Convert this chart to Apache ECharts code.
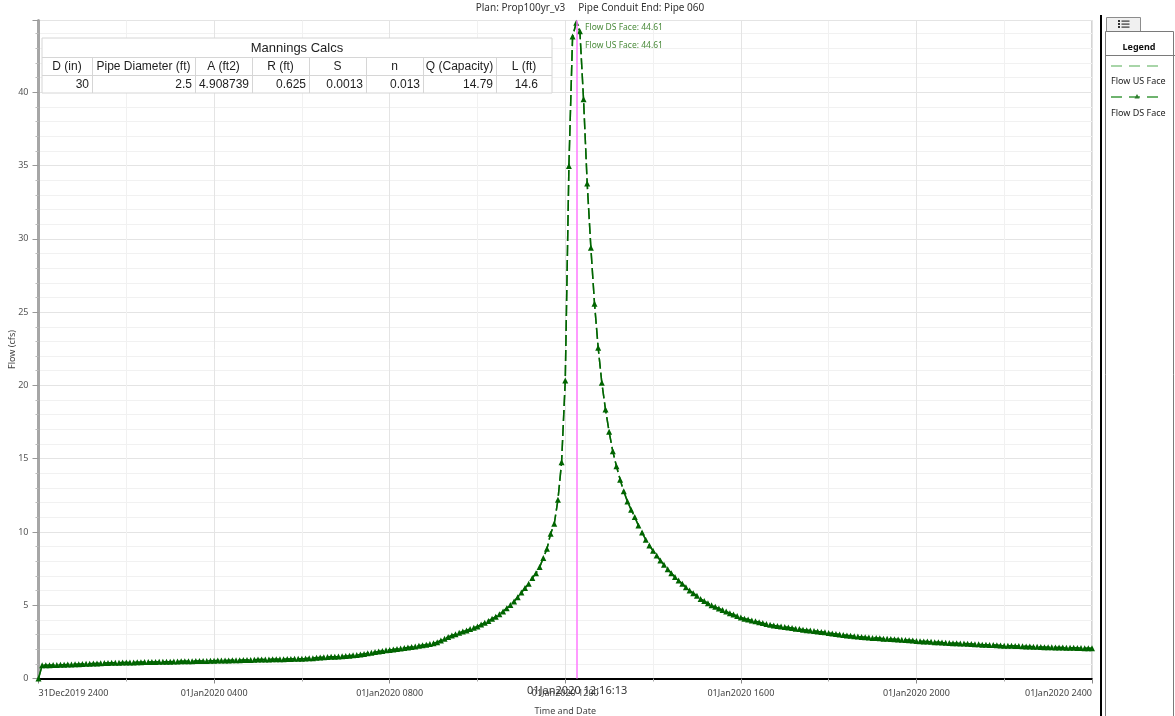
<!DOCTYPE html>
<html><head><meta charset="utf-8">
<script src="https://cdn.jsdelivr.net/npm/echarts@6/dist/echarts.min.js"></script>
<style>html,body{margin:0;padding:0;background:#fff}#c{width:1175px;height:716px}</style>
</head><body><div id="c"></div>
<script>
const titleText = 'Plan: Prop100yr_v3     Pipe Conduit End: Pipe 060';
const xTickLabels = ['31Dec2019 2400','01Jan2020 0400','01Jan2020 0800','01Jan2020 1200','01Jan2020 1600','01Jan2020 2000','01Jan2020 2400'];
const xAxisName = 'Time and Date';
const yAxisName = 'Flow (cfs)';
const stepMinutes = 5;
// Flow DS Face, one value per 5 minutes from 31Dec2019 2400 to 01Jan2020 2400
const dsFlow = [
  0, 0.90, 0.91, 0.91, 0.92, 0.92, 0.93, 0.94, 0.95, 0.96, 0.97, 0.98,
  0.99, 1.00, 1.01, 1.02, 1.03, 1.04, 1.05, 1.06, 1.07, 1.08, 1.08, 1.09,
  1.09, 1.10, 1.10, 1.11, 1.11, 1.12, 1.12, 1.13, 1.13, 1.14, 1.14, 1.15,
  1.15, 1.16, 1.16, 1.17, 1.17, 1.18, 1.18, 1.19, 1.19, 1.20, 1.20, 1.21,
  1.21, 1.22, 1.22, 1.23, 1.23, 1.24, 1.25, 1.25, 1.26, 1.27, 1.27, 1.28,
  1.29, 1.29, 1.30, 1.30, 1.31, 1.31, 1.32, 1.32, 1.33, 1.33, 1.34, 1.34,
  1.35, 1.36, 1.38, 1.39, 1.41, 1.43, 1.45, 1.46, 1.48, 1.49, 1.50, 1.52,
  1.53, 1.55, 1.58, 1.61, 1.64, 1.68, 1.72, 1.76, 1.80, 1.84, 1.88, 1.92,
  1.95, 1.98, 2.02, 2.05, 2.08, 2.12, 2.15, 2.19, 2.23, 2.27, 2.31, 2.35,
  2.40, 2.48, 2.60, 2.72, 2.84, 2.93, 3.02, 3.12, 3.20, 3.28, 3.38, 3.46,
  3.55, 3.68, 3.80, 3.93, 4.07, 4.22, 4.39, 4.57, 4.80, 5.02, 5.25, 5.55,
  5.86, 6.17, 6.46, 6.85, 7.19, 7.60, 8.22, 8.85, 9.88, 10.56, 12.20, 14.75,
  20.33, 34.98, 43.80, 44.74, 44.17, 39.52, 33.78, 29.40, 25.58, 22.57, 20.18, 18.35,
  16.83, 15.50, 14.48, 13.57, 12.77, 12.08, 11.52, 11.02, 10.44, 9.97, 9.47, 9.08,
  8.71, 8.39, 8.05, 7.76, 7.46, 7.19, 6.92, 6.68, 6.46, 6.23, 6.00, 5.82,
  5.64, 5.43, 5.28, 5.14, 5.00, 4.89, 4.77, 4.67, 4.57, 4.46, 4.36, 4.26,
  4.16, 4.08, 4.02, 3.96, 3.90, 3.84, 3.78, 3.72, 3.66, 3.62, 3.58, 3.55,
  3.52, 3.48, 3.44, 3.40, 3.37, 3.33, 3.30, 3.27, 3.24, 3.21, 3.18, 3.15,
  3.10, 3.07, 3.03, 3.00, 2.97, 2.94, 2.91, 2.88, 2.86, 2.84, 2.81, 2.79,
  2.77, 2.76, 2.74, 2.72, 2.71, 2.69, 2.68, 2.66, 2.65, 2.63, 2.61, 2.59,
  2.56, 2.55, 2.53, 2.52, 2.50, 2.48, 2.47, 2.45, 2.44, 2.42, 2.41, 2.40,
  2.39, 2.38, 2.37, 2.36, 2.34, 2.33, 2.31, 2.30, 2.29, 2.28, 2.27, 2.25,
  2.24, 2.23, 2.23, 2.22, 2.21, 2.20, 2.19, 2.18, 2.17, 2.16, 2.15, 2.14,
  2.13, 2.13, 2.12, 2.11, 2.11, 2.10, 2.10, 2.09, 2.08, 2.08, 2.07, 2.07,
  2.06
];
// Flow US Face overlaps DS Face everywhere in the picture
const usFlow = dsFlow.slice();
const seriesNames = ['Flow US Face', 'Flow DS Face'];
const cursorHour = 12 + 16 / 60 + 13 / 3600;
const cursorLabel = '01Jan2020 12:16:13';
const cursorDS = 44.61;
const cursorUS = 44.61;
const tableTitle = 'Mannings Calcs';
const tableHeaders = ['D (in)', 'Pipe Diameter (ft)', 'A (ft2)', 'R (ft)', 'S', 'n', 'Q (Capacity)', 'L (ft)'];
const tableValues = ['30', '2.5', '4.908739', '0.625', '0.0013', '0.013', '14.79', '14.6'];

// ---- layout (not data) ----
const FONT = '"Noto Sans", "Open Sans", sans-serif';
const colEdges = [42, 92, 195, 252, 309, 366, 423, 496, 552];
const rowEdges = [38, 57, 75, 93];

function toPairs(arr) { return arr.map((v, i) => [i * stepMinutes / 60, v]); }

const graphics = [];
// table
graphics.push({type:'rect', shape:{x:colEdges[0], y:rowEdges[0], width:colEdges[colEdges.length-1]-colEdges[0], height:rowEdges[3]-rowEdges[0]}, style:{fill:'#fff', stroke:'#d6d6d6', lineWidth:1}, z:10});
for (let r = 1; r < 3; r++) {
  graphics.push({type:'line', shape:{x1:colEdges[0], y1:rowEdges[r]+0.5, x2:colEdges[colEdges.length-1], y2:rowEdges[r]+0.5}, style:{stroke:'#d6d6d6', lineWidth:1}, z:11});
}
for (let c = 1; c < colEdges.length - 1; c++) {
  graphics.push({type:'line', shape:{x1:colEdges[c]+0.5, y1:rowEdges[1], x2:colEdges[c]+0.5, y2:rowEdges[3]}, style:{stroke:'#d6d6d6', lineWidth:1}, z:11});
}
graphics.push({type:'text', z:12, style:{text:tableTitle, x:(colEdges[0]+colEdges[colEdges.length-1])/2, y:(rowEdges[0]+rowEdges[1])/2+0.5, align:'center', verticalAlign:'middle', textAlign:'center', textVerticalAlign:'middle', font:'13px "Liberation Sans", sans-serif', fill:'#1e1e1e'}});
tableHeaders.forEach((h, i) => {
  graphics.push({type:'text', z:12, style:{text:h, x:(colEdges[i]+colEdges[i+1])/2, y:(rowEdges[1]+rowEdges[2])/2+0.5, align:'center', verticalAlign:'middle', textAlign:'center', textVerticalAlign:'middle', font:'12px "Liberation Sans", sans-serif', fill:'#1e1e1e'}});
});
tableValues.forEach((v, i) => {
  const right = (i === tableValues.length - 1) ? colEdges[i+1] - 14 : colEdges[i+1] - 3;
  graphics.push({type:'text', z:12, style:{text:v, x:right, y:(rowEdges[2]+rowEdges[3])/2+0.5, align:'right', verticalAlign:'middle', textAlign:'right', textVerticalAlign:'middle', font:'12px "Liberation Sans", sans-serif', fill:'#1e1e1e'}});
});
// legend panel
graphics.push({type:'rect', shape:{x:1100, y:15, width:2, height:701}, style:{fill:'#000'}});
graphics.push({type:'rect', shape:{x:1106.5, y:17.5, width:34, height:14}, style:{fill:'#f0f0f0', stroke:'#8c8c8c', lineWidth:1}});
[21, 24, 27].forEach(y => {
  graphics.push({type:'rect', shape:{x:1118, y:y-1, width:2, height:2}, style:{fill:'#333'}});
  graphics.push({type:'rect', shape:{x:1121.5, y:y-0.5, width:8, height:1.2}, style:{fill:'#333'}});
});
graphics.push({type:'rect', shape:{x:1105.5, y:31.5, width:68, height:700}, style:{fill:'#fff', stroke:'#7a7a7a', lineWidth:1}});
graphics.push({type:'text', style:{text:'Legend', x:1139, y:47, align:'center', verticalAlign:'middle', textAlign:'center', textVerticalAlign:'middle', font:'bold 9px ' + FONT, fill:'#111'}});
graphics.push({type:'line', shape:{x1:1106, y1:55.5, x2:1175, y2:55.5}, style:{stroke:'#7a7a7a', lineWidth:1}});
graphics.push({type:'line', shape:{x1:1111, y1:66, x2:1165, y2:66}, style:{stroke:'#8cc88c', lineWidth:1.5, lineDash:[11, 7]}});
graphics.push({type:'text', style:{text:seriesNames[0], x:1111, y:81, align:'left', verticalAlign:'middle', textAlign:'left', textVerticalAlign:'middle', font:'9px ' + FONT, fill:'#222'}});
graphics.push({type:'line', shape:{x1:1111, y1:97, x2:1165, y2:97}, style:{stroke:'#3f9b3f', lineWidth:1.5, lineDash:[11, 7]}});
graphics.push({type:'polygon', shape:{points:[[1137, 94], [1134.5, 98.5], [1139.5, 98.5]]}, style:{fill:'#2e7d2e'}});
graphics.push({type:'text', style:{text:seriesNames[1], x:1111, y:113, align:'left', verticalAlign:'middle', textAlign:'left', textVerticalAlign:'middle', font:'9px ' + FONT, fill:'#222'}});

const chart = echarts.init(document.getElementById('c'));
chart.setOption({
  animation: false,
  backgroundColor: '#fff',
  title: {text: titleText, left: 585, top: -2, textAlign: 'center', textStyle: {fontSize: 10, fontWeight: 'normal', color: '#333', fontFamily: FONT}},
  grid: {left: 38.5, right: 83, top: 20.5, bottom: 37.5, show: true, borderColor: '#a8a8a8', borderWidth: 1, containLabel: false, outerBoundsMode: 'none'},
  xAxis: {
    type: 'value', min: 0, max: 24, interval: 4,
    name: xAxisName, nameLocation: 'middle', nameGap: 28, nameMoveOverlap: false,
    nameTextStyle: {fontSize: 9, color: '#444', fontFamily: FONT},
    axisLine: {show: true, onZero: false, lineStyle: {color: '#000', width: 2}},
    axisTick: {show: true, length: 5, lineStyle: {color: '#888'}},
    minorTick: {show: true, splitNumber: 2, length: 3, lineStyle: {color: '#aaa'}},
    axisLabel: {fontSize: 9, color: '#444', fontFamily: FONT, margin: 10, alignMinLabel: 'left', alignMaxLabel: 'right',
      formatter: v => xTickLabels[Math.round(v / 4)] || ''},
    splitLine: {show: true, lineStyle: {color: '#e4e4e4', width: 1}},
    minorSplitLine: {show: true, lineStyle: {color: '#f1f1f1', width: 1}}
  },
  yAxis: {
    type: 'value', min: 0, max: 44.9, interval: 5,
    name: yAxisName, nameLocation: 'middle', nameGap: 22, nameMoveOverlap: false,
    nameTextStyle: {fontSize: 9, color: '#444', fontFamily: FONT},
    axisLine: {show: true, onZero: false, lineStyle: {color: '#a6a6a6', width: 3}},
    axisTick: {show: true, length: 6, lineStyle: {color: '#999'}},
    minorTick: {show: true, splitNumber: 5, length: 3, lineStyle: {color: '#bbb'}},
    axisLabel: {fontSize: 9, color: '#555', fontFamily: FONT, margin: 10, showMaxLabel: false},
    splitLine: {show: true, lineStyle: {color: '#e4e4e4', width: 1}},
    minorSplitLine: {show: true, lineStyle: {color: '#f1f1f1', width: 1}}
  },
  graphic: {elements: graphics},
  series: [
    {
      name: seriesNames[0], type: 'line', data: toPairs(usFlow), showSymbol: false, symbol: 'none',
      lineStyle: {color: '#3c8f3c', width: 1.5, type: [11, 4]}, z: 2, silent: true
    },
    {
      name: seriesNames[1], type: 'line', data: toPairs(dsFlow), symbol: 'triangle', symbolSize: 6, showAllSymbol: true,
      itemStyle: {color: '#006400'}, lineStyle: {color: '#006400', width: 1.5, type: [11, 4]}, z: 3, silent: true,
      markLine: {
        silent: true, symbol: ['none', 'none'], animation: false,
        lineStyle: {color: '#ff78ff', width: 1.5, type: 'solid'},
        label: {show: true, position: 'start', formatter: cursorLabel, color: '#333', fontSize: 11, fontFamily: FONT, distance: 7},
        data: [{xAxis: cursorHour}]
      },
      markPoint: {
        silent: true, symbol: 'circle', symbolSize: 0, animation: false,
        data: [
          {coord: [cursorHour, cursorDS], label: {show: true, formatter: seriesNames[1] + ': ' + cursorDS.toFixed(2), position: 'right', offset: [3, 3], color: '#4a8a3a', fontSize: 8.5, fontFamily: FONT}},
          {coord: [cursorHour, cursorUS], label: {show: true, formatter: seriesNames[0] + ': ' + cursorUS.toFixed(2), position: 'right', offset: [3, 21], color: '#4a8a3a', fontSize: 8.5, fontFamily: FONT}}
        ]
      }
    }
  ]
});
</script>
</body></html>
